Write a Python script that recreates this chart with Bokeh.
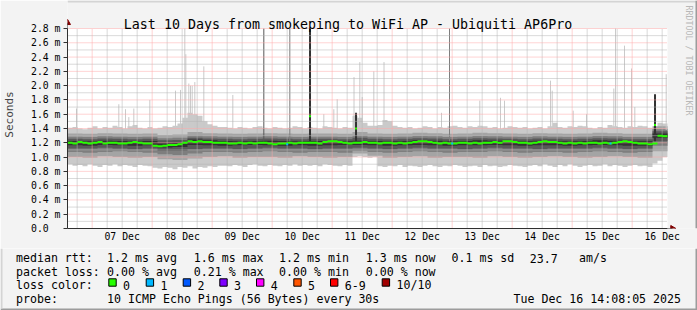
import numpy as np
from bokeh.plotting import figure
from bokeh.layouts import column
from bokeh.models import Range1d, FixedTicker, Label, BoxAnnotation
from bokeh.embed import file_html
from bokeh.resources import INLINE

# ---------------- data ----------------
# time axis: hours after 06 Dec 00:00 ; graph covers 06 Dec 14:08 .. 16 Dec 14:08
T_START = 14.135
T_END = 254.135
STEP_FINE = 2.0      # hours per sample of the fine series
STEP_COARSE = 6.0    # hours per sample of the coarse smoke series
Y_TOP = 2.8

median_ms = [1.20,1.19,1.21,1.20,1.19,1.20,1.21,1.19,1.20,1.20,1.19,1.19,1.20,1.21,1.20,1.19,1.19,
             1.16,1.15,1.16,1.17,1.17,1.18,1.20,1.22,1.21,1.22,1.21,1.21,1.20,1.20,
             1.20,1.19,1.19,1.20,1.19,1.20,1.19,1.20,1.20,1.19,1.18,1.19,1.19,1.20,1.19,1.20,1.20,
             1.20,1.20,1.19,1.21,1.22,1.22,1.21,1.20,1.19,1.20,1.20,1.21,1.20,
             1.20,1.19,1.20,1.20,1.19,1.20,1.19,1.20,1.21,1.22,1.22,1.21,1.20,1.19,1.20,1.19,
             1.19,1.20,1.20,1.19,1.20,1.19,1.20,1.20,1.21,1.20,1.22,1.22,1.21,1.20,1.20,1.19,
             1.20,1.21,1.22,1.21,1.21,1.20,1.19,1.20,1.19,1.20,1.19,1.20,1.20,1.19,1.20,1.19,
             1.20,1.21,1.22,1.21,1.20,1.19,1.19,1.18,1.19,
             1.30,1.29]

ping_min_ms = [0.90,0.88,0.89,0.87,0.90,0.88,0.86,0.89,0.88,0.90,0.87,0.89,0.88,0.86,0.89,0.88,0.87,
               0.85,0.84,0.86,0.85,0.83,0.86,0.85,0.87,0.84,0.86,0.85,0.87,0.86,0.88,
               0.88,0.87,0.89,0.88,0.86,0.89,0.90,0.88,0.87,0.89,0.88,0.87,0.89,0.88,0.90,0.88,0.89,
               0.88,0.89,0.87,0.90,0.89,0.88,0.87,0.89,0.88,1.00,1.01,1.00,0.99,
               1.00,0.87,0.86,0.88,0.87,0.89,0.86,0.88,0.87,0.86,0.88,0.89,0.87,0.86,0.88,0.87,
               0.89,0.88,0.86,0.87,0.88,0.86,0.89,0.87,0.88,0.86,0.87,0.89,0.88,0.87,0.86,0.88,
               0.89,0.87,0.90,0.88,0.86,0.89,0.87,0.90,0.88,0.86,0.88,0.89,0.87,0.88,0.90,0.87,
               0.89,0.88,0.86,0.88,0.89,0.87,0.88,0.86,0.91,
               0.95,1.00]

ping_max_ms = [1.41,1.42,1.40,1.39,1.41,1.43,1.40,1.42,1.41,1.44,1.42,1.40,1.43,1.45,1.41,1.40,1.42,
               1.40,1.41,1.43,1.42,1.44,1.47,1.55,1.62,1.60,1.58,1.50,1.46,1.44,1.42,
               1.42,1.41,1.40,1.42,1.41,1.40,1.42,1.43,1.41,1.40,1.42,1.41,1.40,1.41,1.43,1.42,1.40,
               1.42,1.41,1.40,1.43,1.42,1.41,1.40,1.42,1.41,1.58,1.55,1.48,1.44,
               1.44,1.45,1.52,1.50,1.44,1.42,1.41,1.42,1.40,1.41,1.43,1.42,1.40,1.42,1.41,1.43,
               1.44,1.42,1.41,1.43,1.42,1.44,1.43,1.41,1.42,1.40,1.41,1.43,1.42,1.41,1.42,1.40,
               1.41,1.42,1.40,1.43,1.48,1.42,1.41,1.43,1.42,1.44,1.43,1.41,1.40,1.42,1.41,1.45,
               1.43,1.42,1.41,1.43,1.42,1.44,1.43,1.41,1.40,
               1.48,1.47]

# inner smoke (sorted pings 2..9), one value per 6 hours
ping2_ms = [1.00,0.99,1.01,1.00,0.99,1.00,0.97,0.96,0.98,1.00,1.01,0.99,1.00,1.00,0.99,1.01,1.00,0.99,1.00,1.05,
            1.02,0.99,1.00,1.01,0.99,1.00,1.00,0.99,1.01,1.00,0.99,1.00,1.01,1.00,0.99,1.00,1.01,1.00,0.99,1.08]
ping3_ms = [1.07,1.06,1.07,1.08,1.07,1.06,1.04,1.03,1.05,1.07,1.07,1.06,1.07,1.08,1.07,1.06,1.07,1.07,1.06,1.09,
            1.07,1.06,1.07,1.08,1.07,1.06,1.07,1.07,1.08,1.07,1.06,1.07,1.07,1.06,1.07,1.08,1.07,1.06,1.07,1.16]
ping4_ms = [1.12,1.12,1.13,1.12,1.11,1.12,1.09,1.09,1.11,1.12,1.12,1.11,1.12,1.13,1.12,1.12,1.11,1.12,1.12,1.13,
            1.12,1.11,1.12,1.13,1.12,1.12,1.11,1.12,1.13,1.12,1.12,1.11,1.12,1.12,1.12,1.13,1.12,1.11,1.12,1.22]
ping5_ms = [1.165,1.16,1.17,1.165,1.16,1.165,1.135,1.14,1.17,1.165,1.16,1.165,1.17,1.165,1.16,1.165,1.16,1.165,1.17,1.17,
            1.165,1.16,1.165,1.17,1.165,1.16,1.165,1.165,1.17,1.165,1.16,1.165,1.165,1.16,1.165,1.17,1.165,1.16,1.16,1.27]
ping6_ms = [1.225,1.22,1.23,1.225,1.22,1.225,1.195,1.20,1.245,1.235,1.225,1.22,1.225,1.23,1.225,1.22,1.225,1.225,1.22,1.23,
            1.225,1.22,1.225,1.235,1.23,1.22,1.225,1.235,1.23,1.225,1.22,1.23,1.225,1.22,1.225,1.235,1.23,1.22,1.22,1.33]
ping7_ms = [1.255,1.25,1.26,1.255,1.25,1.255,1.235,1.24,1.27,1.26,1.255,1.25,1.255,1.26,1.255,1.25,1.255,1.255,1.25,1.27,
            1.255,1.25,1.255,1.265,1.26,1.25,1.255,1.265,1.26,1.255,1.25,1.26,1.255,1.25,1.255,1.265,1.26,1.25,1.25,1.36]
ping8_ms = [1.285,1.28,1.29,1.285,1.28,1.285,1.265,1.27,1.30,1.29,1.285,1.28,1.285,1.29,1.285,1.28,1.285,1.285,1.28,1.30,
            1.285,1.28,1.285,1.295,1.29,1.28,1.285,1.295,1.29,1.285,1.28,1.29,1.285,1.28,1.285,1.295,1.29,1.28,1.28,1.39]
ping9_ms = [1.33,1.325,1.335,1.33,1.325,1.33,1.31,1.315,1.35,1.335,1.33,1.325,1.33,1.335,1.33,1.325,1.33,1.33,1.325,1.35,
            1.33,1.325,1.33,1.34,1.335,1.325,1.33,1.34,1.335,1.33,1.325,1.335,1.33,1.325,1.33,1.34,1.335,1.325,1.325,1.43]

# single-interval spikes of the slowest pings: time (h), top (ms), shade (0 light .. 4 dark)
spike_time = [17.73,34.66,37.34,38.66,40.66,47.06,57.33,59.34,61.06,61.46,62.66,63.34,64.01,65.06,68.66,80.26,
              92.66,103.06,111.14,116.66,120.66,122.01,128.74,129.54,131.06,132.01,136.66,140.74,163.74,166.94,
              179.06,187.34,188.94,207.34,208.01,216.41,221.74,232.66,233.34,236.94,239.74,241.06,249.14,253.61]
spike_top = [1.68,1.74,1.67,1.56,1.68,1.80,1.93,1.94,2.80,2.44,2.03,2.00,2.00,2.05,2.27,1.87,
             2.80,2.80,2.80,1.60,1.67,1.81,2.12,1.62,2.33,1.84,2.20,2.33,1.62,2.80,
             1.79,1.83,1.79,2.07,1.93,1.65,1.60,1.96,2.80,2.56,2.24,1.70,1.88,2.16]
spike_shade = [0,0,0,0,0,0,0,0,0,0,0,0,0,0,0,0,
               3,2,4,0,0,0,0,4,0,0,0,0,0,2,
               0,0,0,0,0,0,0,0,0,0,0,0,4,0]

# single intervals where the median itself jumped
median_spike_time = [111.14, 129.54, 249.14]
median_spike_ms = [1.57, 1.40, 1.45]

# intervals with packet loss (1 of 10)
loss_time = [102.02, 168.02, 231.34]
loss_median_ms = [1.18, 1.19, 1.19]
loss_count = [1, 1, 1]

day_labels = ["07 Dec", "08 Dec", "09 Dec", "10 Dec", "11 Dec", "12 Dec", "13 Dec", "14 Dec", "15 Dec", "16 Dec"]
y_ticks = [0.0, 0.2, 0.4, 0.6, 0.8, 1.0, 1.2, 1.4, 1.6, 1.8, 2.0, 2.2, 2.4, 2.6, 2.8]
y_minor = [0.1, 0.3, 0.5, 0.7, 0.9, 1.1, 1.3, 1.5, 1.7, 1.9, 2.1, 2.3, 2.5, 2.7]
loss_legend = ["0", "1", "2", "3", "4", "5", "6-9", "10/10"]
loss_colors = ["#26ff00", "#00b8ff", "#0059ff", "#7e00ff", "#ff00ff", "#ff5500", "#ff0000", "#a10000"]
smoke_colors = ["#cacaca", "#a4a4a4", "#7e7e7e", "#585858", "#323232"]

# ---------------- layout constants (canvas px) ----------------
FONT = "DejaVu Sans Mono"
BG = "#f3f3f3"
PX_PER_H = 2.5               # 600 px for 240 h
FX, FB = 67, 228             # frame left / bottom of the graph in canvas px
MAIN_H = 248
px_y = Y_TOP / 200.0         # ms per pixel

p = figure(width=697, height=MAIN_H, output_backend="svg", toolbar_location=None,
           x_range=Range1d(T_START, T_START + (697 - FX) / PX_PER_H),
           y_range=Range1d(0, FB * px_y),
           min_border_left=FX, min_border_right=0, min_border_top=0, min_border_bottom=MAIN_H - FB)
p.border_fill_color = BG
p.background_fill_color = BG
p.outline_line_color = None
p.xgrid.visible = False
p.ygrid.visible = False

# white graph canvas
p.quad(left=[T_START], right=[T_END], bottom=[0], top=[Y_TOP], fill_color="#ffffff", line_color=None)


def step_x(n, step):
    return T_START + step * np.arange(n + 1)


def ext(a):
    a = list(a)
    return a + [a[-1]]


xf = step_x(len(median_ms), STEP_FINE)
xc = step_x(len(ping2_ms), STEP_COARSE)

p.varea_step(x=xf, y1=ext(ping_min_ms), y2=ext(ping_max_ms), step_mode="after", fill_color=smoke_colors[0])
inner = [(ping2_ms, ping9_ms), (ping3_ms, ping8_ms), (ping4_ms, ping7_ms), (ping5_ms, ping6_ms)]
for k, (lo, hi) in enumerate(inner):
    p.varea_step(x=xc, y1=ext(lo), y2=ext(hi), step_mode="after", fill_color=smoke_colors[k + 1])

# spikes
light_x = [t for t, s in zip(spike_time, spike_shade) if s == 0]
light_y = [v for v, s in zip(spike_top, spike_shade) if s == 0]
p.segment(x0=light_x, y0=[1.38] * len(light_x), x1=light_x, y1=light_y, line_color=smoke_colors[0], line_width=1)
for s in (2, 3, 4):
    xs = [t for t, ss in zip(spike_time, spike_shade) if ss == s]
    ys = [v for v, ss in zip(spike_top, spike_shade) if ss == s]
    p.segment(x0=xs, y0=[1.22] * len(xs), x1=xs, y1=ys, line_color=smoke_colors[s],
              line_width=2 if s == 4 else 1)

# ---- grid (drawn over the smoke, like rrdtool) ----
midnights = [24.0 * k for k in range(1, 11)]
six_h = [6.0 * k for k in range(3, 43) if k % 4 != 0]
noons = [24.0 * k + 12.0 for k in range(1, 11)]
p.segment(x0=six_h, y0=[0] * len(six_h), x1=six_h, y1=[Y_TOP] * len(six_h),
          line_color="#b4b4b4", line_width=1, line_dash="1 1")
p.segment(x0=[T_START] * len(y_minor), y0=y_minor, x1=[T_END] * len(y_minor), y1=y_minor,
          line_color="#b4b4b4", line_width=1, line_dash="1 1")
p.segment(x0=midnights, y0=[0] * len(midnights), x1=midnights, y1=[Y_TOP] * len(midnights),
          line_color="#ffa8a8", line_width=1, line_dash="1 1")
p.segment(x0=[T_START] * (len(y_ticks) - 1), y0=y_ticks[1:], x1=[T_END] * (len(y_ticks) - 1), y1=y_ticks[1:],
          line_color="#ffa8a8", line_width=1, line_dash="1 1")

# median (loss 0) drawn as a thin band, loss-coloured intervals on top
HW = 0.014
p.varea_step(x=xf, y1=[v - HW for v in ext(median_ms)], y2=[v + HW for v in ext(median_ms)],
             step_mode="after", fill_color=loss_colors[0])
p.quad(left=[t - 0.4 for t in median_spike_time], right=[t + 0.4 for t in median_spike_time],
       bottom=[v - HW for v in median_spike_ms], top=[v + HW for v in median_spike_ms],
       fill_color=loss_colors[0], line_color=None)
p.quad(left=[t - 0.4 for t in loss_time], right=[t + 0.4 for t in loss_time],
       bottom=[v - HW for v in loss_median_ms], top=[v + HW for v in loss_median_ms],
       fill_color=[loss_colors[c] for c in loss_count], line_color=None)

# ---- axes ----
p.xaxis.ticker = FixedTicker(ticks=noons)
p.xaxis.major_label_overrides = {t: lab for t, lab in zip(noons, day_labels)}
p.xaxis.bounds = (T_START, T_END)
p.yaxis.ticker = FixedTicker(ticks=y_ticks, minor_ticks=y_minor)
p.yaxis.major_label_overrides = {t: ("0.0\u00a0\u00a0" if t == 0 else f"{t:.1f} m") for t in y_ticks}
p.yaxis.bounds = (0, Y_TOP)

for ax in (p.xaxis[0], p.yaxis[0]):
    ax.axis_line_color = "#303030"
    ax.major_label_text_font = FONT
    ax.major_label_text_font_size = "9.8px"
    ax.major_label_text_color = "#000000"
    ax.minor_tick_line_color = None
p.xaxis.major_tick_line_color = None
p.xaxis.major_tick_out = 0
p.xaxis.major_tick_in = 0
p.xaxis.major_label_standoff = 2
p.yaxis.major_tick_line_color = "#303030"
p.yaxis.major_tick_out = 4
p.yaxis.major_tick_in = 0
p.yaxis.major_label_standoff = 3
p.yaxis.axis_label = "Seconds"
p.yaxis.axis_label_text_font = FONT
p.yaxis.axis_label_text_font_size = "11px"
p.yaxis.axis_label_text_font_style = "normal"
p.yaxis.axis_label_standoff = 12

# axis arrow heads
p.scatter(x=[T_END + 2.0], y=[0], marker="triangle", angle=-np.pi / 2, size=6,
          fill_color="#800000", line_color="#800000")
p.scatter(x=[T_START], y=[Y_TOP + 0.08], marker="triangle", size=6,
          fill_color="#800000", line_color="#800000")
p.segment(x0=[T_END], y0=[0], x1=[T_END + 2.0], y1=[0], line_color="#303030")
p.segment(x0=[T_START], y0=[Y_TOP], x1=[T_START], y1=[Y_TOP + 0.08], line_color="#303030")


def add_text(fig, text, X, Y, size, align="left", color="#000000", angle=0.0, baseline="alphabetic"):
    fig.add_layout(Label(x=X - FX, y=FB - Y, x_units="screen", y_units="screen", text=text,
                         text_font=FONT, text_font_size=f"{size}px", text_color=color,
                         text_align=align, text_baseline=baseline, angle=angle))


add_text(p, "Last 10 Days from smokeping to WiFi AP - Ubiquiti AP6Pro", 347.5, 24, 13.3, align="center")
add_text(p, "RRDTOOL / TOBI OETIKER", 688, 5, 8.3, color="#b8b8b8", angle=-np.pi / 2, baseline="middle")
# 3-D frame pieces that fall in the graph panel
p.add_layout(BoxAnnotation(left=0, right=697 - FX, top=FB, bottom=FB - 2, left_units="screen",
                           right_units="screen", top_units="screen", bottom_units="screen",
                           fill_color="#d4d4d4", fill_alpha=1.0, line_color=None))
p.add_layout(BoxAnnotation(left=695 - FX, right=697 - FX, top=FB, bottom=0, left_units="screen",
                           right_units="screen", top_units="screen", bottom_units="screen",
                           fill_color="#9c9c9c", fill_alpha=1.0, line_color=None))

# ---------------- legend panel (canvas y 248..310) ----------------
q = figure(width=697, height=310 - MAIN_H, output_backend="svg", toolbar_location=None,
           x_range=Range1d(0, 697), y_range=Range1d(310, MAIN_H),
           x_axis_location=None, y_axis_location=None, min_border=0)
q.border_fill_color = BG
q.background_fill_color = BG
q.outline_line_color = None
q.xgrid.visible = False
q.ygrid.visible = False
for fig in (p, q):
    try:
        fig.frame_align = False
    except Exception:
        pass


def qtext(text, X, Y, align="left"):
    q.add_layout(Label(x=X, y=Y, text=text, text_font=FONT, text_font_size="11.6px",
                       text_color="#000000", text_align=align, text_baseline="alphabetic"))


R1, R2, R3, R4 = 257.5, 271.2, 284.9, 298.6
qtext("median rtt:", 15.5, R1)
for s, X in zip(["1.2 ms avg", "1.6 ms max", "1.2 ms min", "1.3 ms now", "0.1 ms sd", "23.7", "am/s"],
                [106.6, 193.3, 278.6, 365.3, 451.0, 529.3, 578.6]):
    qtext(s, X, R1)
qtext("packet loss:", 15.5, R2)
for s, X in zip(["0.00 % avg", "0.21 % max", "0.00 % min", "0.00 % now"], [106.6, 193.3, 278.6, 365.3]):
    qtext(s, X, R2)
qtext("loss color:", 15.5, R3)
box_x = [108.3, 145.7, 182.7, 219.3, 256.0, 293.3, 330.0, 381.7]
q.quad(left=box_x, right=[x + 7.4 for x in box_x], top=[278.3] * 8, bottom=[285.7] * 8,
       fill_color=loss_colors, line_color="#000000", line_width=1)
for lab, X in zip(loss_legend, box_x):
    qtext(lab, X + 14.3, R3)
qtext("probe:", 15.5, R4)
qtext("10 ICMP Echo Pings (56 Bytes) every 30s", 106.6, R4)
qtext("Tue Dec 16 14:08:05 2025", 680.5, R4, align="right")
# 3-D frame pieces of the legend panel
q.quad(left=[0, 695, 0], right=[697, 697, 2], top=[308, MAIN_H, MAIN_H], bottom=[310, 310, 308],
       fill_color=["#9c9c9c", "#9c9c9c", "#d4d4d4"], line_color=None)

layout = column(p, q, spacing=0)
open("out.html", "w").write(file_html(layout, INLINE))
